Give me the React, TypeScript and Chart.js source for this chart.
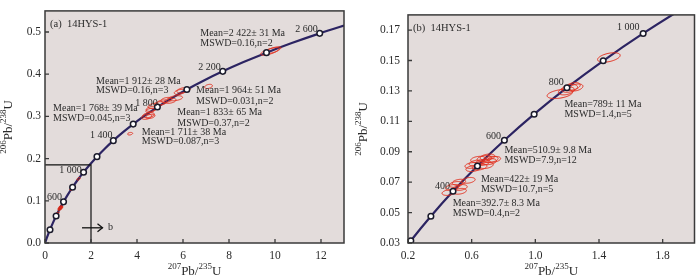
import React, { useEffect, useRef } from 'react';
import { Chart, registerables } from 'chart.js';

Chart.register(...registerables);

// ---- Concordia curve (ages in Ma) ----
const concordiaAges = [0, 100, 200, 300, 400, 500, 600, 700, 800, 900, 1000, 1100, 1200, 1300, 1400, 1500, 1600, 1700, 1800, 1900, 2000, 2100, 2200, 2300, 2400, 2500, 2600, 2700];
const concordia207 = [0, 0.1035, 0.2177, 0.3437, 0.4828, 0.6363, 0.8056, 0.9925, 1.1987, 1.4263, 1.6774, 1.9545, 2.2603, 2.5977, 2.9701, 3.3810, 3.8344, 4.3348, 4.8869, 5.4962, 6.1685, 6.9105, 7.7292, 8.6326, 9.6296, 10.7297, 11.9437, 13.2834];
const concordia206 = [0, 0.01563, 0.03151, 0.04764, 0.06402, 0.08065, 0.09754, 0.11470, 0.13213, 0.14983, 0.16780, 0.18606, 0.20460, 0.22344, 0.24256, 0.26199, 0.28172, 0.30175, 0.32210, 0.34277, 0.36377, 0.38509, 0.40674, 0.42873, 0.45107, 0.47375, 0.49679, 0.52019];

const markerAgesA = [200, 400, 600, 800, 1000, 1200, 1400, 1600, 1800, 2000, 2200, 2400, 2600];
const markerAgesB = [200, 300, 400, 500, 600, 700, 800, 900, 1000];

// ---- Analyses (error ellipses): 207Pb/235U, 206Pb/238U, half axes, correlation ----
const ellX = [
  9.78, 9.92, 7.11, 6.02, 5.86, 5.66, 5.44, 5.28, 5.08, 4.96, 4.72, 4.64, 4.58, 4.50, 4.42, 4.58, 3.70,
  1.462, 1.154, 1.195, 1.215, 1.236, 1.257,
  0.61, 0.65, 0.69, 0.63, 0.67, 0.71, 0.64, 0.68, 0.72, 0.70, 0.74, 0.60,
  0.477, 0.50, 0.53, 0.52, 0.58,
  0.456, 0.525,
];
const ellY = [
  0.454, 0.457, 0.371, 0.362, 0.358, 0.343, 0.337, 0.339, 0.333, 0.330, 0.325, 0.318, 0.314, 0.303, 0.299, 0.300, 0.259,
  0.1520, 0.1280, 0.1300, 0.1317, 0.1330, 0.1323,
  0.0790, 0.0800, 0.0810, 0.0825, 0.0830, 0.0835, 0.0850, 0.0855, 0.0850, 0.0865, 0.0850, 0.0810,
  0.0665, 0.0685, 0.0665, 0.0700, 0.0712,
  0.0632, 0.0640,
];
const ellSX = [
  0.40, 0.34, 0.17, 0.29, 0.24, 0.32, 0.26, 0.24, 0.22, 0.20, 0.24, 0.24, 0.20, 0.26, 0.22, 0.20, 0.11,
  0.071, 0.080, 0.050, 0.050, 0.046, 0.042,
  0.046, 0.046, 0.046, 0.046, 0.046, 0.046, 0.046, 0.046, 0.046, 0.046, 0.042, 0.042,
  0.042, 0.042, 0.042, 0.042, 0.042,
  0.042, 0.042,
];
const ellSY = [
  0.009, 0.008, 0.005, 0.0065, 0.006, 0.006, 0.006, 0.006, 0.006, 0.005, 0.006, 0.006, 0.005, 0.006, 0.006, 0.005, 0.003,
  0.0031, 0.0030, 0.0026, 0.0026, 0.0025, 0.0023,
  0.0020, 0.0020, 0.0020, 0.0020, 0.0020, 0.0020, 0.0020, 0.0020, 0.0020, 0.0020, 0.0019, 0.0019,
  0.0019, 0.0019, 0.0019, 0.0019, 0.0019,
  0.0019, 0.0019,
];
const ellRho = [
  0.7, 0.7, 0.35, 0.4, 0.4, 0.35, 0.35, 0.35, 0.35, 0.35, 0.35, 0.35, 0.35, 0.35, 0.35, 0.35, 0.3,
  0.45, 0.4, 0.35, 0.35, 0.35, 0.35,
  0.3, 0.3, 0.3, 0.3, 0.3, 0.3, 0.3, 0.3, 0.3, 0.3, 0.3, 0.3,
  0.3, 0.3, 0.3, 0.3, 0.3,
  0.3, 0.3,
];

// ---- Ticks ----
const ticksAX = [0, 2, 4, 6, 8, 10, 12];
const ticksAY = [0, 0.1, 0.2, 0.3, 0.4, 0.5];
const ticksBX = [0.2, 0.6, 1.0, 1.4, 1.8];
const ticksBY = [0.03, 0.05, 0.07, 0.09, 0.11, 0.13, 0.15, 0.17];

// ---- Text notes (anchored in data coordinates, left aligned) ----
const notesA = [
  { t: 'Mean=2 422± 31 Ma', x: 6.75, y: 0.497 },
  { t: 'MSWD=0.16,n=2', x: 6.75, y: 0.474 },
  { t: '2 600', x: 10.88, y: 0.506 },
  { t: '2 200', x: 6.66, y: 0.417 },
  { t: 'Mean=1 912± 28 Ma', x: 2.22, y: 0.384 },
  { t: 'MSWD=0.16,n=3', x: 2.22, y: 0.361 },
  { t: 'Mean=1 964± 51 Ma', x: 6.57, y: 0.361 },
  { t: 'MSWD=0.031,n=2', x: 6.57, y: 0.335 },
  { t: '1 800', x: 3.92, y: 0.331 },
  { t: 'Mean=1 768± 39 Ma', x: 0.35, y: 0.318 },
  { t: 'MSWD=0.045,n=3', x: 0.35, y: 0.295 },
  { t: 'Mean=1 833± 65 Ma', x: 5.75, y: 0.309 },
  { t: 'MSWD=0.37,n=2', x: 5.75, y: 0.284 },
  { t: '1 400', x: 1.96, y: 0.254 },
  { t: 'Mean=1 711± 38 Ma', x: 4.21, y: 0.263 },
  { t: 'MSWD=0.087,n=3', x: 4.21, y: 0.240 },
  { t: '1 000', x: 0.62, y: 0.172 },
  { t: '600', x: 0.09, y: 0.107 },
  { t: 'b', x: 2.74, y: 0.036 },
];
const notesB = [
  { t: '1 000', x: 1.513, y: 0.1717 },
  { t: '800', x: 1.084, y: 0.1356 },
  { t: 'Mean=789± 11 Ma', x: 1.183, y: 0.1213 },
  { t: 'MSWD=1.4,n=5', x: 1.183, y: 0.1144 },
  { t: '600', x: 0.690, y: 0.1001 },
  { t: 'Mean=510.9± 9.8 Ma', x: 0.806, y: 0.0908 },
  { t: 'MSWD=7.9,n=12', x: 0.806, y: 0.0846 },
  { t: 'Mean=422± 19 Ma', x: 0.658, y: 0.0717 },
  { t: 'MSWD=10.7,n=5', x: 0.658, y: 0.0653 },
  { t: '400', x: 0.370, y: 0.0671 },
  { t: 'Mean=392.7± 8.3 Ma', x: 0.481, y: 0.0559 },
  { t: 'MSWD=0.4,n=2', x: 0.481, y: 0.0497 },
];

const SERIF = '"Liberation Serif", "Times New Roman", serif';
const TEXT = '#2b2b2b';
const CURVE = '#2c2462';
const RED = '#e2301f';
const BG = '#e3dcdb';

type Panel = {
  tag: string;
  xMin: number; xMax: number; yMin: number; yMax: number;
  xTicks: number[]; yTicks: number[]; xDigits: number; yDigits: number;
  markerAges: number[];
  notes: { t: string; x: number; y: number }[];
  yWidth: number; padRight: number; yPad: number; yTitleX: number;
  zoomBox?: { x: number; y: number };
  arrow?: { x0: number; x1: number; y: number };
};

const panelA: Panel = {
  tag: '(a)  14HYS-1',
  xMin: 0, xMax: 13, yMin: 0, yMax: 0.55,
  xTicks: ticksAX, yTicks: ticksAY, xDigits: 0, yDigits: 1,
  markerAges: markerAgesA, notes: notesA,
  yWidth: 45, padRight: 6, yPad: 4, yTitleX: 7,
  zoomBox: { x: 2, y: 0.185 },
  arrow: { x0: 1.61, x1: 2.5, y: 0.036 },
};
const panelB: Panel = {
  tag: '(b)  14HYS-1',
  xMin: 0.2, xMax: 2.0, yMin: 0.03, yMax: 0.18,
  xTicks: ticksBX, yTicks: ticksBY, xDigits: 1, yDigits: 2,
  markerAges: markerAgesB, notes: notesB,
  yWidth: 58, padRight: 1, yPad: 8, yTitleX: 12,
};

function drawIsoTitle(ctx: CanvasRenderingContext2D, cx: number, cy: number, parts: [string, boolean][], rotate: boolean) {
  const main = `13px ${SERIF}`;
  const sup = `9px ${SERIF}`;
  ctx.save();
  ctx.translate(cx, cy);
  if (rotate) ctx.rotate(-Math.PI / 2);
  ctx.fillStyle = TEXT;
  ctx.textBaseline = 'alphabetic';
  ctx.textAlign = 'left';
  let total = 0;
  for (const [s, isSup] of parts) {
    ctx.font = isSup ? sup : main;
    total += ctx.measureText(s).width;
  }
  let x = -total / 2;
  for (const [s, isSup] of parts) {
    ctx.font = isSup ? sup : main;
    ctx.fillText(s, x, isSup ? -1 : 4.5);
    x += ctx.measureText(s).width;
  }
  ctx.restore();
}

function makePlugin(p: Panel) {
  return {
    id: 'concordiaDecor',
    beforeDraw(chart: any) {
      const { ctx, chartArea: a } = chart;
      ctx.save();
      ctx.fillStyle = BG;
      ctx.fillRect(a.left, a.top, a.right - a.left, a.bottom - a.top);
      ctx.restore();
    },
    afterDatasetDraw(chart: any, args: any) {
      if (args.index !== 1) return;
      const { ctx, chartArea: a } = chart;
      const xs = chart.scales.x, ys = chart.scales.y;
      ctx.save();
      ctx.beginPath();
      ctx.rect(a.left, a.top, a.right - a.left, a.bottom - a.top);
      ctx.clip();
      ctx.strokeStyle = RED;
      ctx.lineWidth = 1;
      for (let i = 0; i < ellX.length; i++) {
        const r = ellRho[i];
        const q = Math.sqrt(1 - r * r);
        ctx.beginPath();
        for (let k = 0; k <= 72; k++) {
          const th = (2 * Math.PI * k) / 72;
          const vx = ellX[i] + ellSX[i] * Math.cos(th);
          const vy = ellY[i] + ellSY[i] * (r * Math.cos(th) + q * Math.sin(th));
          const px = xs.getPixelForValue(vx), py = ys.getPixelForValue(vy);
          if (k === 0) ctx.moveTo(px, py); else ctx.lineTo(px, py);
        }
        ctx.closePath();
        ctx.stroke();
      }
      ctx.restore();
    },
    afterDraw(chart: any) {
      const { ctx, chartArea: a } = chart;
      const xs = chart.scales.x, ys = chart.scales.y;
      ctx.save();
      if (p.zoomBox) {
        ctx.strokeStyle = '#111';
        ctx.lineWidth = 1.2;
        ctx.beginPath();
        const bx = xs.getPixelForValue(p.zoomBox.x), by = ys.getPixelForValue(p.zoomBox.y);
        ctx.moveTo(a.left, by); ctx.lineTo(bx, by); ctx.lineTo(bx, a.bottom);
        ctx.stroke();
      }
      if (p.arrow) {
        const x0 = xs.getPixelForValue(p.arrow.x0), x1 = xs.getPixelForValue(p.arrow.x1), y = ys.getPixelForValue(p.arrow.y);
        ctx.strokeStyle = '#111';
        ctx.lineWidth = 1.3;
        ctx.beginPath(); ctx.moveTo(x0, y); ctx.lineTo(x1, y); ctx.stroke();
        ctx.beginPath(); ctx.moveTo(x1 - 5, y - 4); ctx.lineTo(x1, y); ctx.lineTo(x1 - 5, y + 4); ctx.stroke();
      }
      ctx.fillStyle = TEXT;
      ctx.font = `10px ${SERIF}`;
      ctx.textAlign = 'left';
      ctx.textBaseline = 'middle';
      for (const n of p.notes) {
        ctx.fillText(n.t, xs.getPixelForValue(n.x), ys.getPixelForValue(n.y));
      }
      ctx.font = `10.5px ${SERIF}`;
      ctx.fillText(p.tag, a.left + 5, a.top + 13);
      ctx.strokeStyle = '#3a3a3a';
      ctx.lineWidth = 1.5;
      ctx.strokeRect(a.left, a.top, a.right - a.left, a.bottom - a.top);
      ctx.lineWidth = 1.3;
      ctx.beginPath();
      for (const v of p.xTicks) {
        const x = xs.getPixelForValue(v);
        ctx.moveTo(x, a.bottom); ctx.lineTo(x, a.bottom - 4);
      }
      for (const v of p.yTicks) {
        const y = ys.getPixelForValue(v);
        ctx.moveTo(a.left, y); ctx.lineTo(a.left + 4, y);
      }
      ctx.stroke();
      drawIsoTitle(ctx, (a.left + a.right) / 2, 270, [['207', true], ['Pb/', false], ['235', true], ['U', false]], false);
      drawIsoTitle(ctx, p.yTitleX, (a.top + a.bottom) / 2, [['206', true], ['Pb/', false], ['238', true], ['U', false]], true);
      ctx.restore();
    },
  };
}

function ConcordiaPanel({ p }: { p: Panel }) {
  const ref = useRef<HTMLCanvasElement | null>(null);
  useEffect(() => {
    const canvas = ref.current;
    if (!canvas) return;
    const curve = concordiaAges.map((_, i) => ({ x: concordia207[i], y: concordia206[i] }));
    const markers = p.markerAges.map((age) => {
      const i = concordiaAges.indexOf(age);
      return { x: concordia207[i], y: concordia206[i] };
    });
    const chart = new Chart(canvas, {
      type: 'scatter',
      data: {
        datasets: [
          {
            data: markers,
            showLine: false,
            pointRadius: 2.8,
            pointBackgroundColor: '#ffffff',
            pointBorderColor: '#1a1a2a',
            pointBorderWidth: 1.5,
          } as any,
          {
            data: curve,
            showLine: true,
            pointRadius: 0,
            borderColor: CURVE,
            borderWidth: 2.2,
            cubicInterpolationMode: 'monotone',
          } as any,
        ],
      },
      options: {
        animation: false,
        responsive: false,
        events: [],
        layout: { padding: { top: 1, right: p.padRight, left: 0, bottom: 0 } },
        plugins: { legend: { display: false }, tooltip: { enabled: false } },
        scales: {
          x: {
            type: 'linear',
            min: p.xMin,
            max: p.xMax,
            grid: { display: false, drawTicks: false },
            border: { display: false },
            ticks: {
              autoSkip: false,
              maxRotation: 0,
              padding: 6,
              color: TEXT,
              font: { family: SERIF, size: 11.5 },
              callback: (v: any) => Number(v).toFixed(p.xDigits),
            },
            afterBuildTicks: (s: any) => { s.ticks = p.xTicks.map((v) => ({ value: v })); },
            afterFit: (s: any) => { s.height = 36; },
          },
          y: {
            type: 'linear',
            min: p.yMin,
            max: p.yMax,
            grid: { display: false, drawTicks: false },
            border: { display: false },
            ticks: {
              autoSkip: false,
              padding: p.yPad,
              color: TEXT,
              font: { family: SERIF, size: 11.5 },
              callback: (v: any) => Number(v).toFixed(p.yDigits),
            },
            afterBuildTicks: (s: any) => { s.ticks = p.yTicks.map((v) => ({ value: v })); },
            afterFit: (s: any) => { s.width = p.yWidth; },
          },
        },
      },
      plugins: [makePlugin(p)],
    } as any);
    return () => chart.destroy();
  }, [p]);
  return <canvas ref={ref} width={350} height={279} style={{ display: 'block', width: 350, height: 279 }} />;
}

export default function App() {
  return (
    <div style={{ position: 'fixed', left: 0, top: 0, width: 700, height: 279, background: '#fff', display: 'flex' }}>
      <ConcordiaPanel p={panelA} />
      <ConcordiaPanel p={panelB} />
    </div>
  );
}
